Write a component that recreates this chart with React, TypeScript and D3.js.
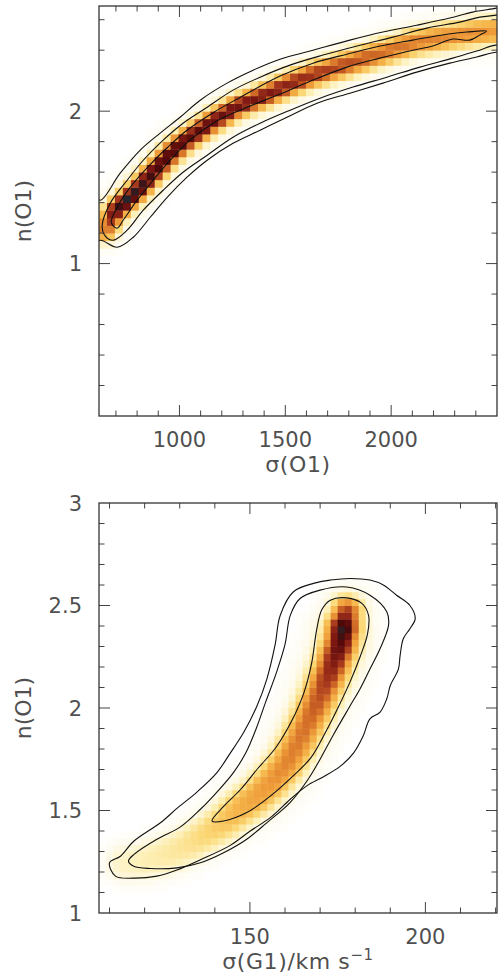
import React from "react";
import * as d3 from "d3";

// ---- upper panel: n(O1) against sigma(O1) ----
const topRidgeX = [650, 700, 755, 815, 870, 956, 1003, 1050, 1153, 1271, 1395, 1522, 1631, 1791, 1947, 2102, 2263, 2418, 2500];
const topRidgeY = [1.22, 1.35, 1.42, 1.5, 1.59, 1.72, 1.78, 1.83, 1.93, 2.03, 2.1, 2.18, 2.24, 2.31, 2.38, 2.45, 2.49, 2.52, 2.53];
const topRidgePeak = [0.62, 0.94, 1.0, 0.97, 0.95, 0.94, 0.93, 0.92, 0.9, 0.88, 0.86, 0.82, 0.78, 0.72, 0.66, 0.62, 0.59, 0.57, 0.54];
const topRidgeSpread = [0.05, 0.05, 0.05, 0.05, 0.05, 0.05, 0.05, 0.05, 0.05, 0.05, 0.051, 0.052, 0.053, 0.054, 0.055, 0.056, 0.057, 0.057, 0.057];

const topInner = [[678, 1.27], [706, 1.37], [767, 1.5], [848, 1.63], [942, 1.76], [1036, 1.875], [1159, 1.99], [1286, 2.09], [1475, 2.23], [1631, 2.315], [1791, 2.374], [1947, 2.427], [2102, 2.466], [2263, 2.505], [2357, 2.519], [2451, 2.525], [2418, 2.499], [2371, 2.466], [2291, 2.473], [2197, 2.427], [2102, 2.4], [1947, 2.348], [1791, 2.289], [1631, 2.204], [1475, 2.112], [1286, 2.006], [1159, 1.921], [1050, 1.81], [956, 1.678], [876, 1.547], [800, 1.416], [734, 1.284], [706, 1.232]];
const topMiddle = [[635, 1.25], [673, 1.396], [753, 1.547], [829, 1.678], [923, 1.81], [1017, 1.921], [1131, 2.026], [1253, 2.138], [1381, 2.223], [1522, 2.302], [1678, 2.368], [1853, 2.433], [2008, 2.486], [2169, 2.545], [2324, 2.584], [2418, 2.617], [2498, 2.63], [2540, 2.64], [2540, 2.4], [2498, 2.433], [2418, 2.4], [2291, 2.348], [2136, 2.289], [1980, 2.223], [1820, 2.158], [1664, 2.085], [1522, 2.006], [1381, 1.921], [1253, 1.829], [1131, 1.711], [1017, 1.599], [923, 1.481], [829, 1.35], [753, 1.219], [687, 1.153], [650, 1.18]];
const topOuter = [[590, 1.47], [626, 1.416], [720, 1.593], [815, 1.745], [909, 1.856], [1003, 1.96], [1098, 2.072], [1225, 2.184], [1348, 2.269], [1475, 2.341], [1631, 2.4], [1805, 2.466], [1961, 2.519], [2121, 2.564], [2277, 2.611], [2385, 2.65], [2498, 2.676], [2540, 2.69], [2540, 2.37], [2498, 2.387], [2404, 2.355], [2277, 2.315], [2121, 2.256], [1961, 2.184], [1805, 2.118], [1650, 2.052], [1508, 1.96], [1381, 1.875], [1253, 1.789], [1131, 1.678], [1036, 1.567], [942, 1.435], [862, 1.304], [782, 1.173], [706, 1.107], [626, 1.153], [590, 1.12]];

const topXLabels = [1000, 1500, 2000];
const topYLabels = [1, 2];

// ---- lower panel: n(O1) against sigma(G1) ----
const botRidgeX = [114.5, 120, 126, 132, 138, 143, 147.2, 152, 156.7, 160.5, 164.3, 167.1, 170, 172.9, 175.7, 176.7, 177.6];
const botRidgeY = [1.245, 1.255, 1.285, 1.33, 1.39, 1.45, 1.51, 1.57, 1.65, 1.73, 1.85, 1.95, 2.06, 2.18, 2.31, 2.4, 2.47];
const botRidgePeak = [0.13, 0.16, 0.19, 0.23, 0.3, 0.38, 0.46, 0.52, 0.57, 0.6, 0.63, 0.66, 0.72, 0.81, 0.92, 1.0, 0.76];
const botRidgeSpread = [0.064, 0.064, 0.064, 0.062, 0.06, 0.06, 0.06, 0.06, 0.06, 0.06, 0.06, 0.06, 0.06, 0.06, 0.058, 0.056, 0.05];

const botInner = [[139.2, 1.449], [142.5, 1.52], [147.2, 1.6], [152, 1.7], [157.5, 1.81], [162, 1.94], [165.3, 2.07], [167.6, 2.22], [169, 2.38], [170.5, 2.48], [172.9, 2.526], [177.6, 2.537], [181.9, 2.51], [183.8, 2.452], [183.5, 2.36], [181.4, 2.25], [178.6, 2.13], [175.2, 2.005], [171.5, 1.88], [167.5, 1.76], [162.4, 1.67], [155.8, 1.57], [149.1, 1.49], [142.5, 1.449]];
const botMiddle = [[115.4, 1.253], [116.9, 1.285], [123.5, 1.36], [130.2, 1.42], [135.9, 1.506], [140.6, 1.59], [145.3, 1.685], [148.8, 1.78], [151.8, 1.9], [154.5, 2.03], [157.5, 2.17], [160, 2.31], [161.5, 2.452], [164.3, 2.534], [170, 2.575], [177.6, 2.59], [184.2, 2.55], [189, 2.469], [189.5, 2.404], [187.1, 2.29], [184.2, 2.19], [181.4, 2.094], [178.6, 2.012], [173.8, 1.87], [170, 1.75], [166.5, 1.65], [161.5, 1.54], [154.8, 1.44], [149.1, 1.36], [142.5, 1.294], [135.9, 1.245], [129.2, 1.22], [121.6, 1.217], [116.9, 1.228]];
const botOuter = [[110, 1.245], [113.1, 1.277], [116.9, 1.35], [124.5, 1.44], [129.2, 1.51], [134.9, 1.59], [140.6, 1.685], [144.4, 1.78], [148.2, 1.88], [152, 2.01], [154.8, 2.14], [157.2, 2.31], [158.6, 2.45], [162.4, 2.567], [168.1, 2.608], [172.9, 2.624], [178.6, 2.632], [184.2, 2.624], [188, 2.6], [191.8, 2.55], [195.6, 2.5], [197.1, 2.436], [195.6, 2.387], [193.7, 2.338], [192.8, 2.257], [192.3, 2.19], [190, 2.11], [189, 2.045], [187.1, 1.98], [184.2, 1.947], [182.3, 1.865], [179.5, 1.78], [175.7, 1.715], [171, 1.665], [166.2, 1.62], [161.5, 1.555], [155.8, 1.465], [150.1, 1.4], [144.4, 1.33], [135.9, 1.26], [129.2, 1.21], [123.5, 1.18], [116.9, 1.17], [111.7, 1.18]];

const botXLabels = [150, 200];
const botYLabels = [1, 1.5, 2, 2.5, 3];

// colour ramp: white - yellow - orange - red - black
const heatStops = [0, 0.05, 0.15, 0.28, 0.42, 0.55, 0.66, 0.76, 0.86, 0.94, 1];
const heatColours = ["#ffffff", "#fefbee", "#fdf0b8", "#fbd978", "#f6b84c", "#ee9a38", "#d06a26", "#a83a1c", "#7a1612", "#4e0808", "#24262c"];
const heat = d3.scaleLinear<string>().domain(heatStops).range(heatColours).clamp(true);

const font = "'DejaVu Sans', sans-serif";
const textCol = "#505050";

// density of each histogram cell from the distance to the ridge line
function ridgeCells(ridge, xs, ys, bx, by) {
  const px = ridge.x.map((v) => xs(v));
  const py = ridge.y.map((v) => ys(v));
  const unit = Math.abs(ys(1) - ys(0));
  const cells = [];
  for (let i = 0; i < bx.length - 1; i++) {
    for (let j = 0; j < by.length - 1; j++) {
      const cx = (xs(bx[i]) + xs(bx[i + 1])) / 2;
      const cy = (ys(by[j]) + ys(by[j + 1])) / 2;
      let best = Infinity, pk = 0, sp = 1;
      for (let k = 0; k < px.length - 1; k++) {
        const ax = px[k], ay = py[k];
        const dx = px[k + 1] - ax, dy = py[k + 1] - ay;
        const len = dx * dx + dy * dy;
        let t = len > 0 ? ((cx - ax) * dx + (cy - ay) * dy) / len : 0;
        t = Math.max(0, Math.min(1, t));
        const ex = ax + t * dx - cx, ey = ay + t * dy - cy;
        const d2 = ex * ex + ey * ey;
        if (d2 < best) {
          best = d2;
          pk = ridge.peak[k] + t * (ridge.peak[k + 1] - ridge.peak[k]);
          sp = (ridge.spread[k] + t * (ridge.spread[k + 1] - ridge.spread[k])) * unit;
        }
      }
      const s2 = 1.8 * sp;
      // flat-topped core plus a faint wide halo
      const core = Math.exp(-Math.pow(best / (2 * sp * sp), 1.3));
      const halo = Math.exp(-best / (2 * s2 * s2));
      const v = pk * (0.84 * core + 0.16 * halo);
      if (v > 0.012) cells.push({ x0: bx[i], x1: bx[i + 1], y0: by[j], y1: by[j + 1], v });
    }
  }
  return cells;
}

const Panel = ({ id, box, xDomain, yDomain, ridge, bx, by, contours, xMinor, xMajor, xLabels, yMinor, yMajor, yLabels, xTitle, yTitle }) => {
  const xs = d3.scaleLinear().domain(xDomain).range([box.left, box.right]);
  const ys = d3.scaleLinear().domain(yDomain).range([box.bottom, box.top]);
  const cells = ridgeCells(ridge, xs, ys, bx, by);
  const line = d3
    .line()
    .x((d) => xs(d[0]))
    .y((d) => ys(d[1]))
    .curve(d3.curveCatmullRomClosed.alpha(0.5));
  const tickCol = "#444";
  const majLen = 11, minLen = 5.5;
  const midY = (box.top + box.bottom) / 2;
  return (
    <g>
      <defs>
        <clipPath id={id}>
          <rect x={box.left} y={box.top} width={box.right - box.left} height={box.bottom - box.top} />
        </clipPath>
      </defs>
      <g clipPath={`url(#${id})`}>
        {cells.map((c, i) => (
          <rect
            key={i}
            x={xs(c.x0)}
            y={ys(c.y1)}
            width={xs(c.x1) - xs(c.x0) + 0.4}
            height={ys(c.y0) - ys(c.y1) + 0.4}
            fill={heat(c.v)}
          />
        ))}
        {contours.map((c, i) => (
          <path key={i} d={line(c)} fill="none" stroke="#111" strokeWidth={1.1} />
        ))}
      </g>
      {/* ticks on all four sides, pointing in */}
      {xMinor.map((t) => {
        const len = xMajor.includes(t) ? majLen : minLen;
        return (
          <g key={"x" + t} stroke={tickCol} strokeWidth={1}>
            <line x1={xs(t)} x2={xs(t)} y1={box.bottom} y2={box.bottom - len} />
            <line x1={xs(t)} x2={xs(t)} y1={box.top} y2={box.top + len} />
          </g>
        );
      })}
      {yMinor.map((t) => {
        const len = yMajor.some((m) => Math.abs(m - t) < 1e-6) ? majLen : minLen;
        return (
          <g key={"y" + t} stroke={tickCol} strokeWidth={1}>
            <line x1={box.left} x2={box.left + len} y1={ys(t)} y2={ys(t)} />
            <line x1={box.right} x2={box.right - len} y1={ys(t)} y2={ys(t)} />
          </g>
        );
      })}
      <rect
        x={box.left}
        y={box.top}
        width={box.right - box.left}
        height={box.bottom - box.top}
        fill="none"
        stroke="#333"
        strokeWidth={1.3}
      />
      {xLabels.map((t) => (
        <text key={"xl" + t} x={xs(t)} y={box.bottom + 31} textAnchor="middle" fontSize={21} fontFamily={font} fill={textCol}>
          {t}
        </text>
      ))}
      {yLabels.map((t) => (
        <text key={"yl" + t} x={82} y={ys(t)} dy="0.36em" textAnchor="end" fontSize={21} fontFamily={font} fill={textCol}>
          {t}
        </text>
      ))}
      <text x={(box.left + box.right) / 2} y={box.bottom + 56} textAnchor="middle" fontSize={22} fontFamily={font} fill={textCol} letterSpacing={0.6}>
        {xTitle}
      </text>
      <text
        transform={`translate(31,${midY}) rotate(-90)`}
        textAnchor="middle"
        fontSize={22}
        fontFamily={font}
        fill={textCol}
      >
        {yTitle}
      </text>
    </g>
  );
};

export default function App() {
  const topBox = { left: 99, right: 497, top: 6, bottom: 416 };
  const botBox = { left: 99, right: 497, top: 503, bottom: 913 };
  return (
    <svg width={498} height={977} style={{ position: "absolute", left: 0, top: 0, background: "#fff" }}>
      <Panel
        id="clipTop"
        box={topBox}
        xDomain={[620, 2500]}
        yDomain={[0, 2.69]}
        ridge={{ x: topRidgeX, y: topRidgeY, peak: topRidgePeak, spread: topRidgeSpread }}
        bx={d3.range(0, 51).map((i) => 620 + i * 37.6)}
        by={d3.range(0, 55).map((i) => i * 0.05)}
        contours={[topOuter, topMiddle, topInner]}
        xMinor={d3.range(700, 2500, 100)}
        xMajor={[1000, 1500, 2000]}
        xLabels={topXLabels}
        yMinor={d3.range(1, 14).map((i) => +(i * 0.2).toFixed(1))}
        yMajor={[1, 2]}
        yLabels={topYLabels}
        xTitle="σ(O1)"
        yTitle="n(O1)"
      />
      <Panel
        id="clipBot"
        box={botBox}
        xDomain={[107, 220.4]}
        yDomain={[1, 3]}
        ridge={{ x: botRidgeX, y: botRidgeY, peak: botRidgePeak, spread: botRidgeSpread }}
        bx={d3.range(0, 58).map((i) => 107 + i * 2)}
        by={d3.range(0, 61).map((i) => 1 + i / 30)}
        contours={[botOuter, botMiddle, botInner]}
        xMinor={d3.range(110, 221, 10)}
        xMajor={[150, 200]}
        xLabels={botXLabels}
        yMinor={d3.range(11, 30).map((i) => +(i * 0.1).toFixed(1))}
        yMajor={[1.5, 2, 2.5]}
        yLabels={botYLabels}
        xTitle={
          <>
            σ(G1)/km s
            <tspan dy={-9} fontSize={15}>−1</tspan>
          </>
        }
        yTitle="n(O1)"
      />
    </svg>
  );
}
